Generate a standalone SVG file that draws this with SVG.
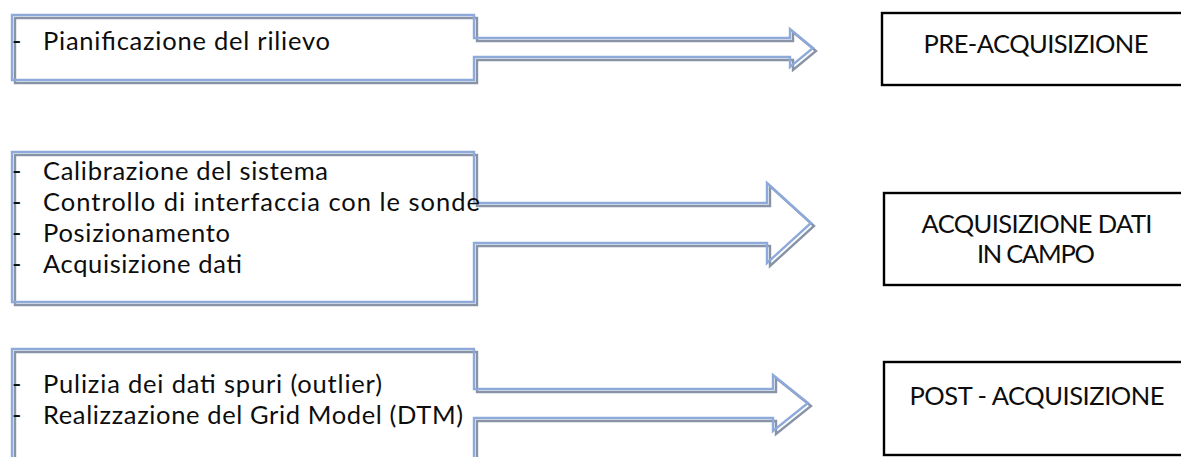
<svg xmlns="http://www.w3.org/2000/svg" width="1181" height="457" viewBox="0 0 1181 457">
  <style>
    .txt { font-family: Lato, "Open Sans", "Liberation Sans", sans-serif; font-size: 25.5px; fill: #0d0d0d; }
    .mid { text-anchor: middle; }
    .callout { fill: none; stroke-width: 2.4; stroke-linejoin: miter; }
    .blue { stroke: #8eaadb; }
    .shade { stroke: #8893a6; }
    .stage { fill: #fff; stroke: #000; stroke-width: 2.4; }
  </style>
  <defs>
    <!-- right-arrow callout outlines -->
    <path id="c1" d="M12,15 H474 V38 H790 V29 L813,48 L790,67 V57 H474 V80 H12 Z"/>
    <path id="c2" d="M12,152 H474 V203 H767 V183 L811,223 L767,263 V243 H474 V302 H12 Z"/>
    <path id="c3" d="M12,349 H474 V389 H773 V375 L808,403 L773,431 V418 H474 V470 H12 Z"/>
  </defs>
  <rect width="1181" height="457" fill="#fff"/>

  <!-- arrow callouts (connectors toward stage boxes) -->
  <g id="connectors">
    <use href="#c1" class="callout shade" transform="translate(3,3)"/>
    <use href="#c1" class="callout blue"/>
    <use href="#c2" class="callout shade" transform="translate(3,3)"/>
    <use href="#c2" class="callout blue"/>
    <use href="#c3" class="callout shade" transform="translate(3,3)"/>
    <use href="#c3" class="callout blue"/>
  </g>

  <g id="task-planning">
    <text class="txt" x="12" y="50">-</text>
    <text class="txt" x="43" y="50" textLength="287">Pianificazione del rilievo</text>
  </g>

  <g id="task-field">
    <text class="txt" x="12" y="180">-</text>
    <text class="txt" x="43" y="180" textLength="285">Calibrazione del sistema</text>
    <text class="txt" x="12" y="211">-</text>
    <text class="txt" x="43" y="211" textLength="437">Controllo di interfaccia con le sonde</text>
    <text class="txt" x="12" y="242">-</text>
    <text class="txt" x="43" y="242" textLength="187">Posizionamento</text>
    <text class="txt" x="12" y="273">-</text>
    <text class="txt" x="43" y="273" textLength="199">Acquisizione dati</text>
  </g>

  <g id="task-post">
    <text class="txt" x="12" y="393">-</text>
    <text class="txt" x="43" y="393" textLength="339">Pulizia dei dati spuri (outlier)</text>
    <text class="txt" x="12" y="424">-</text>
    <text class="txt" x="43" y="424" textLength="420">Realizzazione del Grid Model (DTM)</text>
  </g>

  <g id="stage-pre">
    <rect class="stage" x="882" y="13" width="320" height="72"/>
    <text class="txt mid" x="1036" y="53" textLength="225">PRE-ACQUISIZIONE</text>
  </g>

  <g id="stage-field">
    <rect class="stage" x="884" y="193" width="320" height="92"/>
    <text class="txt mid" x="1037" y="233" textLength="231">ACQUISIZIONE DATI</text>
    <text class="txt mid" x="1036" y="263" textLength="118">IN CAMPO</text>
  </g>

  <g id="stage-post">
    <rect class="stage" x="884" y="362" width="320" height="93"/>
    <text class="txt mid" x="1037" y="405" textLength="255">POST - ACQUISIZIONE</text>
  </g>
</svg>
